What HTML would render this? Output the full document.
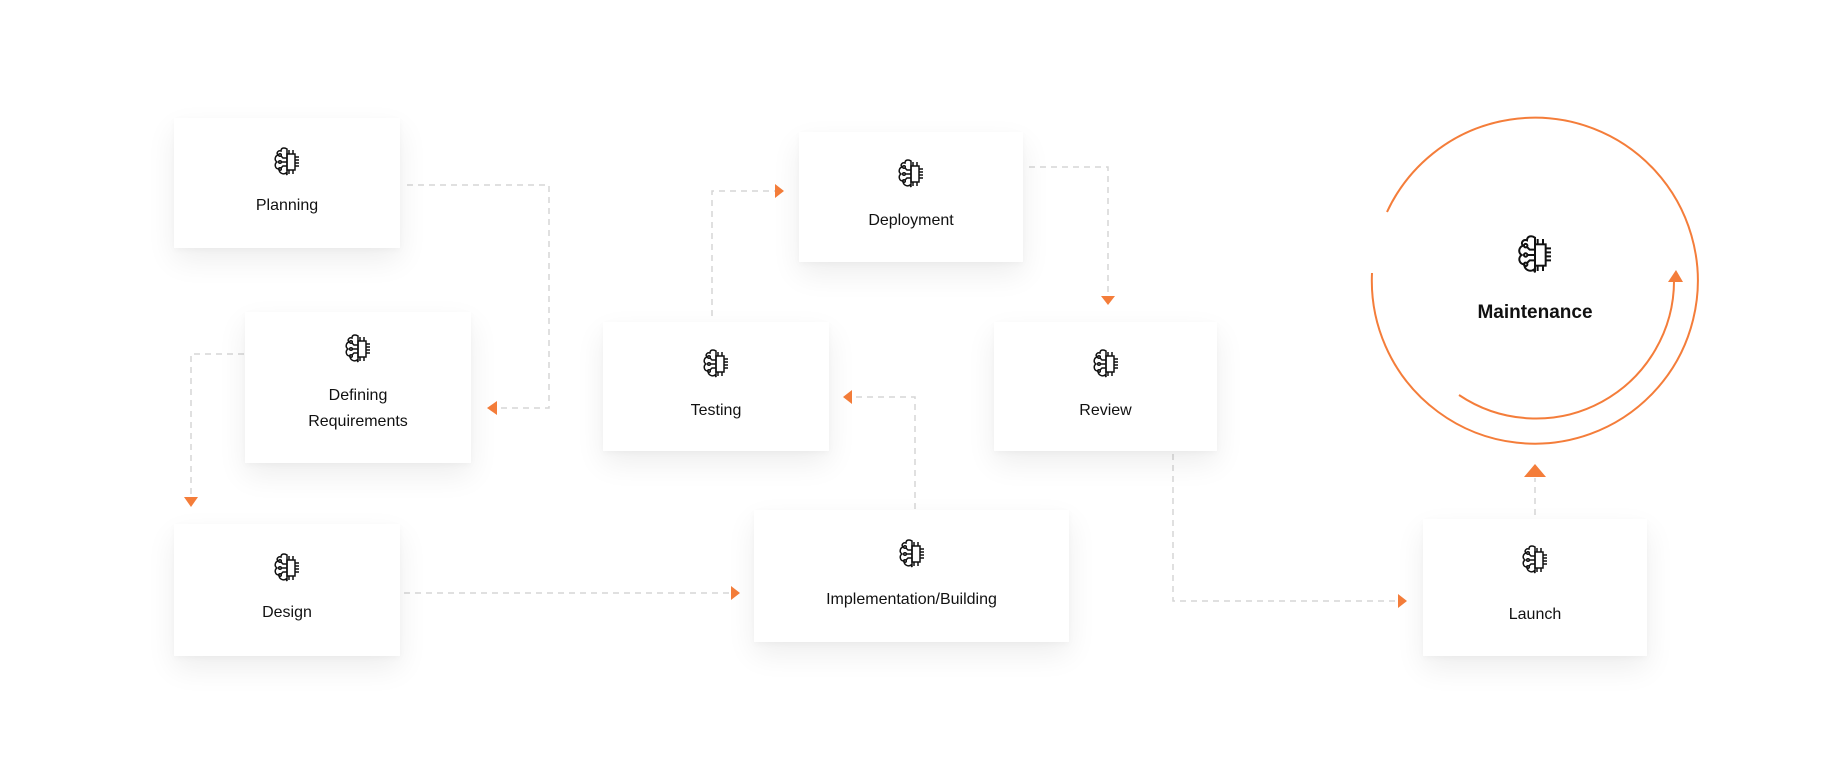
<!DOCTYPE html>
<html><head><meta charset="utf-8"><style>
body{margin:0;width:1848px;height:778px;background:#fff;position:relative;overflow:hidden;font-family:"Liberation Sans",sans-serif;}
.b{position:absolute;background:#fff;box-shadow:0 12px 28px rgba(0,0,0,0.07),0 2px 6px rgba(0,0,0,0.03);}
.b svg{position:absolute;left:50%;margin-left:-15px;width:30px;height:32px;}
.t{position:absolute;left:0;right:0;text-align:center;font-size:16px;color:#111;line-height:26px;}
#ov{position:absolute;left:0;top:0;}
</style></head><body>
<svg width="0" height="0" style="position:absolute"><defs>
<symbol id="ic" viewBox="0 0 30 32"><g fill="none" stroke="#111" stroke-width="1.5">
<path d="M15 3 C12 1 9 2 9 5 C6 4 4 7 6 9 C3 10 2 14 5 16 C2 18 3 23 7 23 C7 27 11 29 14 27 L15 29 Z"/>
<rect x="15" y="8" width="8" height="16"/>
<path d="M23 11h4M23 14h4M23 17h4M23 20h4M17 24v4M21 24v4M17 8V4M21 8V4"/>
<path d="M15 12h-4l-2-2M15 16H9M15 20h-4l-2 2"/>
<circle cx="8" cy="9" r="1.3"/><circle cx="8" cy="16" r="1.3"/><circle cx="8" cy="23" r="1.3"/>
</g></symbol></defs></svg>

<svg id="ov" width="1848" height="778">
<g fill="none" stroke="#d6d6d6" stroke-width="1.5" stroke-dasharray="6 5">
<path d="M407 185H549V408H495"/>
<path d="M244 354H191V497"/>
<path d="M404 593H731"/>
<path d="M915 509V397H851"/>
<path d="M712 316V191H776"/>
<path d="M1029 167H1108V295"/>
<path d="M1173 454V601H1398"/>
<path d="M1535 515V478"/>
</g>
<g fill="#f47d3a">
<path d="M487 408L497 401V415Z"/>
<path d="M191 507L184 497H198Z"/>
<path d="M740 593L731 586V600Z"/>
<path d="M843 397L852 390V404Z"/>
<path d="M784 191L775 184V198Z"/>
<path d="M1108 305L1101 296H1115Z"/>
<path d="M1407 601L1398 594V608Z"/>
<path d="M1535 464L1524 477H1546Z"/>
<path d="M1676 270L1668 282H1683Z"/>
</g>
<g fill="none" stroke="#f47d3a" stroke-width="2">
<path d="M1387 212A163 163 0 1 1 1372 273"/>
<path d="M1459 395A138 138 0 0 0 1674 278"/>
</g>
</svg>

<div class="b" style="left:174px;top:118px;width:226px;height:130px"><svg style="top:28px"><use href="#ic"/></svg><div class="t" style="top:75px">Planning</div></div>
<div class="b" style="left:245px;top:312px;width:226px;height:151px"><svg style="top:21px"><use href="#ic"/></svg><div class="t" style="top:71px">Defining<br>Requirements</div></div>
<div class="b" style="left:174px;top:524px;width:226px;height:132px"><svg style="top:28px"><use href="#ic"/></svg><div class="t" style="top:76px">Design</div></div>
<div class="b" style="left:603px;top:322px;width:226px;height:129px"><svg style="top:26px"><use href="#ic"/></svg><div class="t" style="top:76px">Testing</div></div>
<div class="b" style="left:799px;top:132px;width:224px;height:130px"><svg style="top:26px"><use href="#ic"/></svg><div class="t" style="top:76px">Deployment</div></div>
<div class="b" style="left:754px;top:510px;width:315px;height:132px"><svg style="top:28px"><use href="#ic"/></svg><div class="t" style="top:77px">Implementation/Building</div></div>
<div class="b" style="left:994px;top:322px;width:223px;height:129px"><svg style="top:26px"><use href="#ic"/></svg><div class="t" style="top:76px">Review</div></div>
<div class="b" style="left:1423px;top:519px;width:224px;height:137px"><svg style="top:25px"><use href="#ic"/></svg><div class="t" style="top:83px">Launch</div></div>

<svg style="position:absolute;left:1515px;top:233px;width:40px;height:44px" viewBox="0 0 30 32"><use href="#ic"/></svg>
<div style="position:absolute;left:1435px;width:200px;top:302px;text-align:center;font-size:19px;font-weight:bold;color:#111">Maintenance</div>
</body></html>
